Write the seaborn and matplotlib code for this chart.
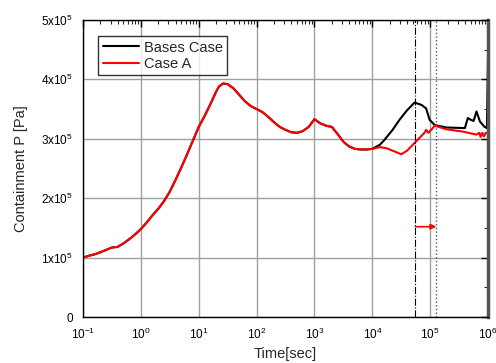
import numpy as np
import pandas as pd
import matplotlib
matplotlib.use("Agg")
import matplotlib.pyplot as plt
import seaborn as sns
from matplotlib.ticker import FixedLocator, FuncFormatter, LogLocator, NullFormatter

# ---- data (log10 time [s], pressure in 1e5 Pa) ----
common_logt = [-1.0, -0.9, -0.8, -0.7, -0.6, -0.5, -0.4, -0.3, -0.2, -0.1, 0.0, 0.1, 0.2,
               0.3, 0.4, 0.5, 0.6, 0.7, 0.8, 0.9,
               1.0, 1.1, 1.2, 1.3, 1.35, 1.42, 1.5, 1.6, 1.7, 1.8, 1.9, 2.0, 2.1, 2.2,
               2.3, 2.4, 2.5, 2.6, 2.7, 2.8, 2.9, 3.0,
               3.1, 3.2, 3.3, 3.4, 3.5, 3.6, 3.7, 3.8, 3.9, 4.0]
common_p = [1.00, 1.03, 1.055, 1.09, 1.13, 1.17, 1.18, 1.24, 1.31, 1.39, 1.48, 1.59, 1.71,
            1.82, 1.95, 2.11, 2.31, 2.52, 2.74, 2.97,
            3.20, 3.38, 3.58, 3.79, 3.88, 3.93, 3.92, 3.85, 3.74, 3.63, 3.55, 3.50, 3.45, 3.37,
            3.28, 3.20, 3.15, 3.11, 3.10, 3.13, 3.20, 3.33,
            3.26, 3.22, 3.20, 3.08, 2.95, 2.87, 2.83, 2.82, 2.82, 2.83]

base_tail_logt = [4.13, 4.2, 4.35, 4.47, 4.6, 4.73, 4.85, 4.93, 4.99, 5.08, 5.28,
                  5.6, 5.65, 5.7, 5.75, 5.8, 5.86, 5.94, 5.98, 6.0]
base_tail_p = [2.90, 2.97, 3.15, 3.32, 3.48, 3.61, 3.57, 3.51, 3.32, 3.23, 3.19,
               3.18, 3.35, 3.32, 3.30, 3.46, 3.29, 3.20, 3.18, 4.45]

casea_tail_logt = [4.13, 4.25, 4.4, 4.5, 4.6, 4.7, 4.85, 4.9, 4.93, 4.97, 5.08, 5.28, 5.57,
                   5.8, 5.85, 5.87, 5.9, 5.93, 5.96, 6.0]
casea_tail_p = [2.86, 2.84, 2.78, 2.74, 2.80, 2.90, 3.05, 3.10, 3.15, 3.10, 3.22, 3.16, 3.12,
                3.07, 3.10, 3.03, 3.10, 3.04, 3.10, 3.10]

series_names = ["Bases Case", "Case A"]
series_colors = ["black", "red"]

vline_dashdot = 5.56e4
vline_dotted = 1.28e5
arrow_p = 1.52e5

y_ticks = [0, 1e5, 2e5, 3e5, 4e5, 5e5]

# ---- build long table ----
rows = []
for lt, p in zip(common_logt + base_tail_logt, common_p + base_tail_p):
    rows.append(("Bases Case", 10 ** lt, p * 1e5))
for lt, p in zip(common_logt + casea_tail_logt, common_p + casea_tail_p):
    rows.append(("Case A", 10 ** lt, p * 1e5))
df = pd.DataFrame(rows, columns=["series", "t", "P"])

sns.set_style("white")
plt.rcParams["font.family"] = ["Liberation Sans", "DejaVu Sans"]
plt.rcParams["mathtext.fontset"] = "custom"
plt.rcParams["mathtext.rm"] = "Liberation Sans"

fig = plt.figure(figsize=(4.96, 3.63), dpi=100)
ax = fig.add_axes([0.1673, 0.1267, 0.8167, 0.8183])

ax.set_xscale("log")
sns.lineplot(data=df, x="t", y="P", hue="series", hue_order=series_names,
             palette=dict(zip(series_names, series_colors)), sort=False,
             estimator=None, linewidth=1.5, ax=ax, legend=True)

ax.set_xlim(1e-1, 1e6)
ax.set_ylim(0, 5e5)

# gridlines
ax.grid(True, which="major", color="#a0a0a0", linewidth=1.0)
ax.set_axisbelow(True)

# vertical marker lines
ax.axvline(vline_dashdot, color="black", linestyle="-.", linewidth=0.8)
ax.axvline(vline_dotted, color="#555555", linestyle=":", linewidth=1.0)
ax.annotate("", xy=(vline_dotted, arrow_p), xytext=(vline_dashdot, arrow_p),
            arrowprops=dict(arrowstyle="-|>", color="red", lw=1.2,
                            mutation_scale=8, shrinkA=0, shrinkB=0))

# ticks
ax.yaxis.set_major_locator(FixedLocator(y_ticks))
ax.yaxis.set_minor_locator(FixedLocator([0.5e5, 1.5e5, 2.5e5, 3.5e5, 4.5e5]))

def yfmt(v, pos):
    if v == 0:
        return "0"
    return r"$\mathregular{%dx10^{5}}$" % round(v / 1e5)

ax.yaxis.set_major_formatter(FuncFormatter(yfmt))
ax.xaxis.set_major_locator(LogLocator(base=10, numticks=20))
ax.xaxis.set_minor_locator(LogLocator(base=10, subs=np.arange(2, 10), numticks=100))
ax.xaxis.set_minor_formatter(NullFormatter())

def xfmt(v, pos):
    return r"$\mathregular{10^{%d}}$" % round(np.log10(v))

ax.xaxis.set_major_formatter(FuncFormatter(xfmt))

ax.tick_params(axis="both", which="major", direction="out", length=5, width=1,
               labelsize=8.5, colors="black", pad=2)
ax.tick_params(axis="both", which="minor", direction="out", length=3, width=0.8)
ax.tick_params(top=True, right=True, which="both")
# top / right ticks point inward
for t in ax.xaxis.get_major_ticks() + ax.xaxis.get_minor_ticks():
    t.tick2line.set_marker(3)  # TICKDOWN
for t in ax.yaxis.get_major_ticks() + ax.yaxis.get_minor_ticks():
    t.tick2line.set_marker(0)  # TICKLEFT

for s in ["left", "bottom", "top"]:
    ax.spines[s].set_color("black")
    ax.spines[s].set_linewidth(1.0)
ax.spines["right"].set_color("#555555")
ax.spines["right"].set_linewidth(2.5)

ax.set_xlabel("Time[sec]", fontsize=10.5, labelpad=4)
ax.set_ylabel("Containment P [Pa]", fontsize=10.5, labelpad=10)

leg = ax.legend(loc="upper left", bbox_to_anchor=(0.02, 0.97), fontsize=10.5,
                frameon=True, fancybox=False, edgecolor="black",
                handlelength=2.5, borderpad=0.3, labelspacing=0.15, handletextpad=0.3)
leg.get_frame().set_linewidth(1.0)
leg.set_title(None)

fig.savefig("out.png", dpi=100)
